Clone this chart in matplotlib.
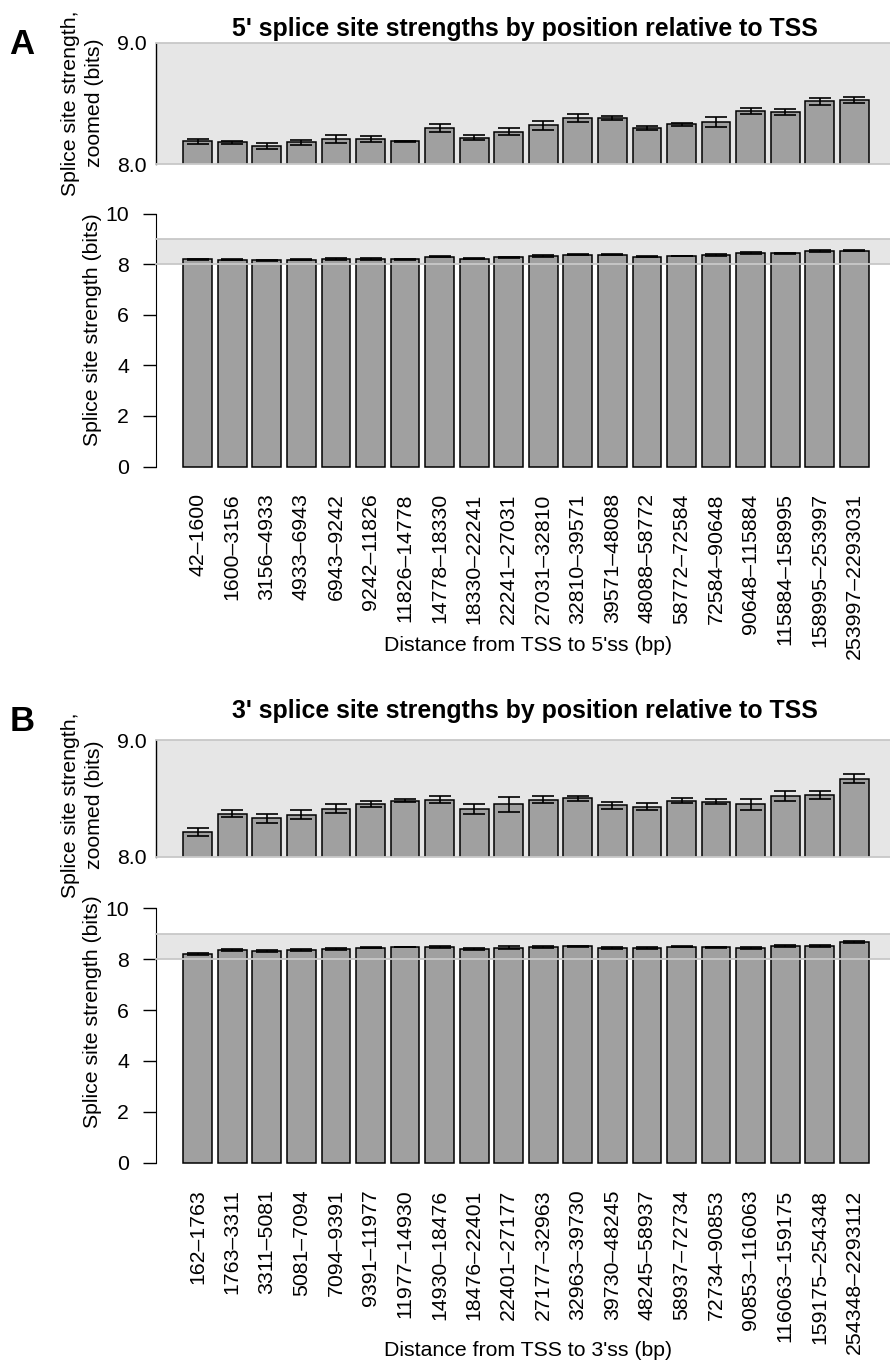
import matplotlib.pyplot as plt
import numpy as np

plt.rcParams['font.family'] = ['Liberation Sans', 'DejaVu Sans']

# distance bins (bp) and mean splice-site strength (bits) with standard errors
bins_5ss = ["42\u20131600", "1600\u20133156", "3156\u20134933", "4933\u20136943",
            "6943\u20139242", "9242\u201311826", "11826\u201314778", "14778\u201318330",
            "18330\u201322241", "22241\u201327031", "27031\u201332810", "32810\u201339571",
            "39571\u201348088", "48088\u201358772", "58772\u201372584", "72584\u201390648",
            "90648\u2013115884", "115884\u2013158995", "158995\u2013253997",
            "253997\u20132293031"]
strength_5ss = [8.19, 8.18, 8.15, 8.18, 8.21, 8.21, 8.19, 8.30, 8.22, 8.27,
                8.32, 8.38, 8.38, 8.30, 8.33, 8.35, 8.44, 8.43, 8.52, 8.53]
sem_5ss = [0.020, 0.015, 0.026, 0.020, 0.033, 0.027, 0.005, 0.030, 0.023, 0.028,
           0.035, 0.033, 0.015, 0.015, 0.012, 0.040, 0.023, 0.025, 0.029, 0.023]

bins_3ss = ["162\u20131763", "1763\u20133311", "3311\u20135081", "5081\u20137094",
            "7094\u20139391", "9391\u201311977", "11977\u201314930", "14930\u201318476",
            "18476\u201322401", "22401\u201327177", "27177\u201332963", "32963\u201339730",
            "39730\u201348245", "48245\u201358937", "58937\u201372734", "72734\u201390853",
            "90853\u2013116063", "116063\u2013159175", "159175\u2013254348",
            "254348\u20132293112"]
strength_3ss = [8.21, 8.37, 8.33, 8.36, 8.41, 8.45, 8.48, 8.49, 8.41, 8.45,
                8.49, 8.50, 8.44, 8.43, 8.48, 8.47, 8.45, 8.52, 8.53, 8.67]
sem_3ss = [0.034, 0.033, 0.040, 0.036, 0.039, 0.027, 0.013, 0.033, 0.040, 0.064,
           0.033, 0.020, 0.029, 0.029, 0.019, 0.021, 0.047, 0.043, 0.037, 0.039]

W, H = 890, 1363
BAR = "#a0a0a0"
BAND = "#e6e6e6"
BAND_EDGE = "#c8c8c8"
FS = 15.3

fig = plt.figure(figsize=(W / 100, H / 100), dpi=100)


def axes_px(left, right, top, bottom):
    return fig.add_axes([left / W, 1 - bottom / H, (right - left) / W, (bottom - top) / H])


def bars(ax, labels, vals, errs):
    x = 0.7 + 1.2 * np.arange(len(labels))
    ax.bar(x, vals, width=1.0, color=BAR, edgecolor="black", linewidth=1.1, zorder=2)
    ax.errorbar(x, vals, yerr=errs, fmt="none", ecolor="black", elinewidth=1.2,
                capsize=8, capthick=1.2, zorder=4)
    for y in (8, 9):
        ax.axhline(y, color=BAND_EDGE, lw=1.3, zorder=3, clip_on=False)
    ax.set_xlim(-0.75, 24.74)
    return x


def panel(g, letter, title, xlabel, labels, vals, errs):
    # zoomed view 8-9 bits
    axz = axes_px(156, 890, g["zoom"][0], g["zoom"][1])
    axz.set_facecolor(BAND)
    bars(axz, labels, vals, errs)
    axz.set_ylim(8, 9)
    axz.set_xticks([])
    axz.set_yticks([8, 9], ["8.0", "9.0"], fontsize=FS)
    axz.tick_params(axis="y", length=0, pad=7)
    for s in ("top", "right", "bottom"):
        axz.spines[s].set_visible(False)
    axz.spines["left"].set_linewidth(1.0)

    # full range 0-10 bits
    axf = axes_px(156, 890, g["full"][0], g["full"][1])
    axf.axhspan(8, 9, color=BAND, lw=0, zorder=0)
    x = bars(axf, labels, vals, errs)
    axf.set_ylim(-0.4, 10.4)
    axf.set_yticks(range(0, 11, 2))
    axf.tick_params(axis="y", labelsize=FS, length=9.4, width=1.0, pad=10)
    axf.set_xticks(x, labels, rotation=90, fontsize=FS)
    axf.tick_params(axis="x", length=0, pad=12)
    for s in ("top", "right", "bottom"):
        axf.spines[s].set_visible(False)
    axf.spines["left"].set_bounds(0, 10)

    fig.text(525 / W, 1 - g["title"] / H, title, ha="center", va="baseline",
             fontsize=17.9, fontweight="bold")
    fig.text(22 / W, 1 - g["letter"] / H, letter, ha="center", va="center",
             fontsize=25, fontweight="bold")
    fig.text(82.5 / W, 1 - g["zlab"] / H, "Splice site strength,\nzoomed (bits)",
             rotation=90, ha="center", va="center", fontsize=FS, linespacing=1.3,
             multialignment="center")
    fig.text(93 / W, 1 - g["ylab"] / H, "Splice site strength (bits)", rotation=90,
             ha="center", va="center", fontsize=FS)
    fig.text(528 / W, 1 - g["xlab"] / H, xlabel, ha="center", va="baseline", fontsize=FS)


panel(dict(zoom=(43, 164.3), full=(203.5, 476.7), title=36, letter=44, zlab=103,
           ylab=330, xlab=651),
      "A", "5' splice site strengths by position relative to TSS",
      "Distance from TSS to 5'ss (bp)", bins_5ss, strength_5ss, sem_5ss)
panel(dict(zoom=(740, 856.7), full=(898.1, 1172.9), title=718, letter=721, zlab=805,
           ylab=1012, xlab=1356),
      "B", "3' splice site strengths by position relative to TSS",
      "Distance from TSS to 3'ss (bp)", bins_3ss, strength_3ss, sem_3ss)

fig.savefig("out.png", dpi=100)
